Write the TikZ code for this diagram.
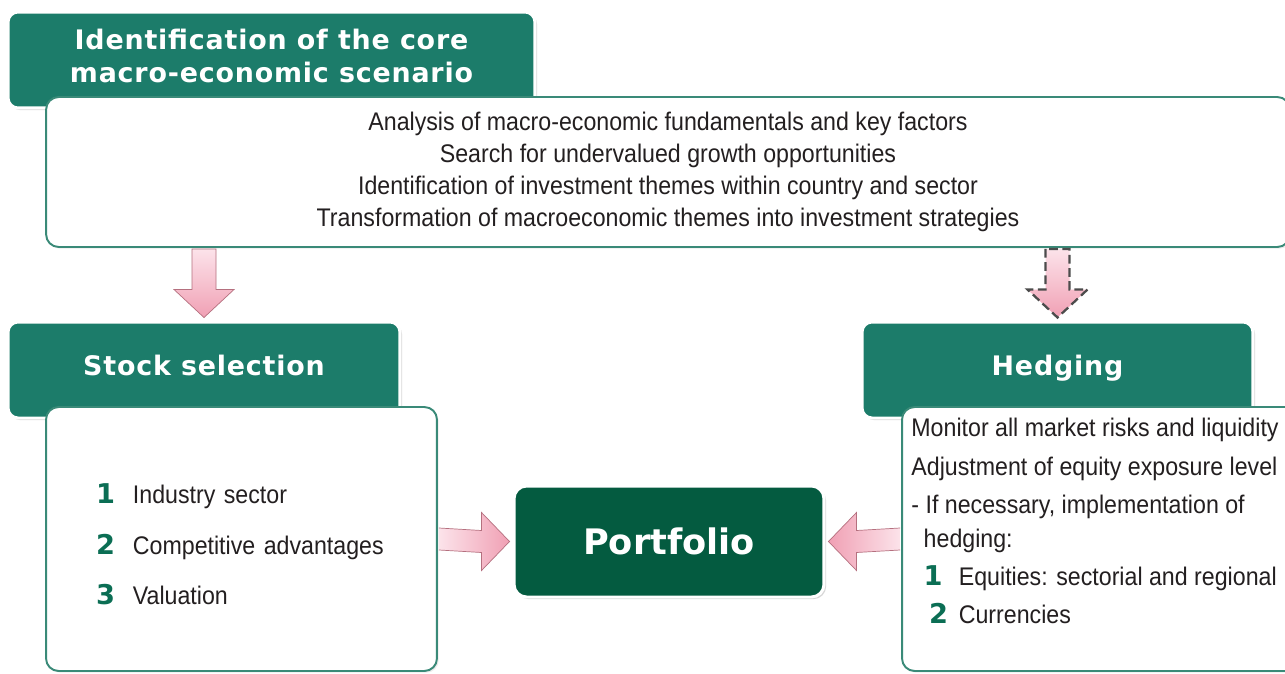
\documentclass[tikz,border=0pt]{standalone}
\usepackage{fontspec}
\setmainfont{Liberation Sans}[FakeStretch=0.91]
\newfontfamily\headfont{DejaVu Sans}
\newfontfamily\headwide{DejaVu Sans}[LetterSpace=3]
\usetikzlibrary{calc, shadows}

\definecolor{headteal}{HTML}{1C7C6A}
\definecolor{boxteal}{HTML}{3A8A78}
\definecolor{numgreen}{HTML}{0B6E54}
\definecolor{portgreen}{HTML}{045B40}
\definecolor{pinklight}{HTML}{FCE3EA}
\definecolor{pinkdark}{HTML}{F0A0B4}
\definecolor{pinkedge}{HTML}{B5707F}
\definecolor{bodytext}{HTML}{231F20}

% green list number in a fixed-width slot
\newcommand{\itemnum}[2][21pt]{\makebox[#1][l]{\headfont\bfseries\color{numgreen}\fontsize{15.5}{15.5}\selectfont #2}}

\begin{document}
\begin{tikzpicture}[
    x=0.02cm, y=-0.02cm,
    header/.style={rectangle, rounded corners=0.2cm, draw=white, line width=1.7pt, fill=headteal, text=white, font=\headwide\bfseries\fontsize{15.3}{18.7}\selectfont, align=center, text depth=5.5pt, drop shadow={shadow xshift=1.2pt, shadow yshift=-1.2pt, opacity=0.3}},
    infobox/.style={rectangle, rounded corners=0.25cm, draw=boxteal, line width=1.1pt, fill=white, text=bodytext, font=\fontsize{14.5}{18.1}\selectfont, drop shadow={shadow xshift=1pt, shadow yshift=-1pt, opacity=0.15}},
    portbox/.style={rectangle, rounded corners=0.25cm, draw=white, line width=1.7pt, fill=portgreen, text=white, font=\headfont\bfseries\fontsize{20}{24}\selectfont, drop shadow={shadow xshift=1.2pt, shadow yshift=-1.2pt, opacity=0.3}},
    downfill/.style={top color=pinklight, bottom color=pinkdark, draw=pinkedge, line width=0.4pt},
    sidefill/.style={draw=pinkedge, line width=0.4pt},
    dashedge/.style={draw=black!70, dashed, line width=1.3pt, dash pattern=on 5pt off 2.5pt}
]

\path[use as bounding box, clip] (0,0) rectangle (1285,673);
\fill[white] (0,0) rectangle (1285,673);

% Nodes
\node[header, minimum width=10.54cm, minimum height=1.92cm, text depth=4.6pt] (scenario) at (271.5,60) {Identification of the core\\macro-economic scenario};
\node[infobox, minimum width=24.88cm, minimum height=3cm, align=center] (intro) at (668,172)
    {Analysis of macro-economic fundamentals and key factors\\
     Search for undervalued growth opportunities\\
     Identification of investment themes within country and sector\\
     Transformation of macroeconomic themes into investment strategies};

\node[header, minimum width=7.84cm, minimum height=1.92cm] (stockhead) at (204,370) {Stock selection};
\node[infobox, minimum width=7.82cm, minimum height=5.28cm, inner xsep=1cm, text width=5.82cm, align=left, font=\fontsize{14.5}{28.9}\selectfont] (stockbox) at (241.5,539)
    {\rule{0pt}{17.5pt}\itemnum{1}Industry sector\\
     \itemnum{2}Competitive advantages\\
     \itemnum{3}Valuation};

\node[header, minimum width=7.82cm, minimum height=1.92cm] (hedghead) at (1057.5,370) {Hedging};
\node[infobox, minimum width=7.96cm, minimum height=5.28cm] (hedgbox) at (1101,539) {};
\node[anchor=north west, inner sep=0pt, align=left, text=bodytext, font=\fontsize{14.5}{21.8}\selectfont] (hedgtext) at ($(hedgbox.north west)+(10,12)$)
    {Monitor all market risks and liquidity\\
     Adjustment of equity exposure level\\
     - If necessary, implementation of\\[-2.5pt]
     \hspace*{7pt}hedging:\\
     \hspace*{7pt}\itemnum[20pt]{1}Equities: sectorial and regional\\
     \hspace*{10pt}\itemnum[17pt]{2}Currencies};

\node[portbox, minimum width=6.2cm, minimum height=2.22cm] (portfolio) at (669,541.5) {Portfolio};

% Arrows
\coordinate (s1) at (stockhead.north |- intro.south);
\coordinate (e1) at ($(stockhead.north)+(0,-3)$);
\shadedraw[downfill] ($(s1)+(-12,1)$) -- ($(e1)+(-12,-28)$) -- ($(e1)+(-30,-28)$) -- (e1)
    -- ($(e1)+(30,-28)$) -- ($(e1)+(12,-28)$) -- ($(s1)+(12,1)$) -- cycle;

\coordinate (s2) at (hedghead.north |- intro.south);
\coordinate (e2) at ($(hedghead.north)+(0,-3)$);
\shadedraw[downfill, dashedge] ($(s2)+(-12,1)$) -- ($(e2)+(-12,-28)$) -- ($(e2)+(-30,-28)$) -- (e2)
    -- ($(e2)+(30,-28)$) -- ($(e2)+(12,-28)$) -- ($(s2)+(12,1)$) -- cycle;

\coordinate (s3) at ($(stockbox.east)+(1,0)$);
\coordinate (e3) at ($(portfolio.west)+(-3,0)$);
\shadedraw[sidefill, left color=pinklight, right color=pinkdark] ($(s3)+(0,-11)$) -- ($(e3)+(-28,-11)$) -- ($(e3)+(-28,-29)$) -- (e3)
    -- ($(e3)+(-28,29)$) -- ($(e3)+(-28,11)$) -- ($(s3)+(0,11)$);

\coordinate (s4) at ($(hedgbox.west)+(-1,0)$);
\coordinate (e4) at ($(portfolio.east)+(3,0)$);
\shadedraw[sidefill, left color=pinkdark, right color=pinklight] ($(s4)+(0,-11)$) -- ($(e4)+(28,-11)$) -- ($(e4)+(28,-29)$) -- (e4)
    -- ($(e4)+(28,29)$) -- ($(e4)+(28,11)$) -- ($(s4)+(0,11)$);

\end{tikzpicture}
\end{document}
